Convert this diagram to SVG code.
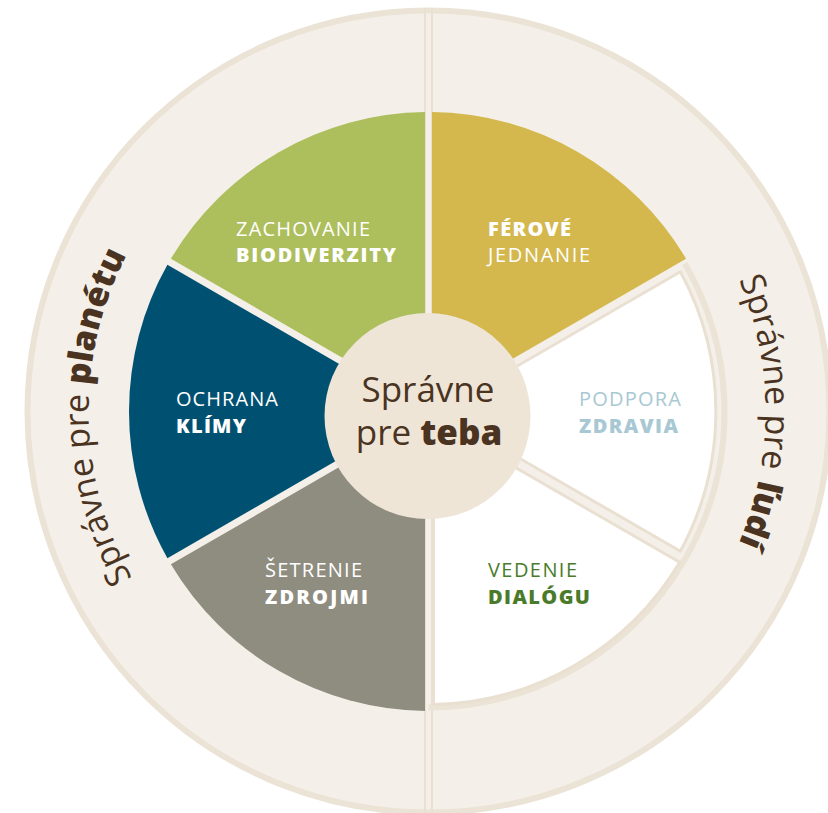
<svg xmlns="http://www.w3.org/2000/svg" width="828" height="813" viewBox="0 0 828 813">
<style>
.ringfill{fill:#f4f0e9;stroke:#ebe3d5;stroke-width:6}
.div{stroke:#e9e0d1;stroke-width:2;fill:none}
.band{fill:none;stroke:#ebe3d5;stroke-width:6}
.white{fill:#ffffff;stroke:#e9e0d1;stroke-width:3;stroke-linejoin:round}
.lbl{font-family:"Open Sans","Liberation Sans",sans-serif;font-size:20px}
.lt{font-weight:400}
.bd{font-weight:800}
.ring{font-family:"Open Sans","Liberation Sans",sans-serif;font-size:34px;fill:#4a3321}
.ctr{font-family:"Open Sans","Liberation Sans",sans-serif;font-size:35px;fill:#4a3321;text-anchor:middle}
</style>
<defs>
<path id="arcL" d="M 263.7 708.9 A 340 340 0 0 1 253.4 120.1" fill="none"/>
<path id="arcR" d="M 597 119.6 A 337 337 0 0 1 597 703.4" fill="none"/>
</defs>
<rect width="828" height="813" fill="#ffffff"/>
<g id="outer-ring">
<circle cx="428.5" cy="411.5" r="401" class="ringfill"/>
<line x1="425" y1="8" x2="425" y2="813" class="div"/>
<line x1="432" y1="8" x2="432" y2="813" class="div"/>
<path d="M 684.8 263.5 A 296 296 0 0 1 428.5 707.5" class="band"/>
</g>
<g id="label-planetu">
<text class="ring"><textPath href="#arcL" startOffset="50%" text-anchor="middle">Správne pre <tspan font-weight="800">planétu</tspan></textPath></text>
</g>
<g id="label-ludi">
<text class="ring"><textPath href="#arcR" startOffset="50%" text-anchor="middle">Správne pre <tspan font-weight="800" dx="3">ľudí</tspan></textPath></text>
</g>
<g id="seg-biodiverzita">
<path d="M 425 405.44 L 170.9 258.73 A 299.5 299.5 0 0 1 425 112.02 Z" fill="#adbe5c"/>
<text class="lbl lt" x="236" y="236" fill="#ffffff" textLength="134" lengthAdjust="spacing">ZACHOVANIE</text>
<text class="lbl bd" x="236" y="262" fill="#ffffff" textLength="160" lengthAdjust="spacing">BIODIVERZITY</text>
</g>
<g id="seg-ferove">
<path d="M 432 405.44 L 432 112.02 A 299.5 299.5 0 0 1 686.1 258.73 Z" fill="#d4b84e"/>
<text class="lbl bd" x="488" y="236" fill="#ffffff" textLength="83" lengthAdjust="spacing">FÉROVÉ</text>
<text class="lbl lt" x="488" y="262" fill="#ffffff" textLength="102" lengthAdjust="spacing">JEDNANIE</text>
</g>
<g id="seg-zdravie">
<path d="M 438.5 411.5 L 680.4 271.8 A 293 293 0 0 1 680.4 551.2 Z" class="white"/>
<text class="lbl lt" x="579" y="406" fill="#a8c8d3" textLength="102" lengthAdjust="spacing">PODPORA</text>
<text class="lbl bd" x="579" y="433" fill="#a8c8d3" textLength="99" lengthAdjust="spacing">ZDRAVIA</text>
</g>
<g id="seg-dialog">
<path d="M 433.5 420.16 L 679.7 562.3 A 293 293 0 0 1 433.5 704.46 Z" class="white"/>
<text class="lbl lt" x="488" y="577" fill="#4a7b2b" textLength="89" lengthAdjust="spacing">VEDENIE</text>
<text class="lbl bd" x="488" y="604" fill="#4a7b2b" textLength="102" lengthAdjust="spacing">DIALÓGU</text>
</g>
<g id="seg-zdroje">
<path d="M 425 417.56 L 425 710.98 A 299.5 299.5 0 0 1 170.9 564.27 Z" fill="#8f8d7f"/>
<text class="lbl lt" x="265" y="577" fill="#ffffff" textLength="97" lengthAdjust="spacing">ŠETRENIE</text>
<text class="lbl bd" x="265" y="604" fill="#ffffff" textLength="103" lengthAdjust="spacing">ZDROJMI</text>
</g>
<g id="seg-klima">
<path d="M 421.5 411.5 L 167.4 558.21 A 299.5 299.5 0 0 1 167.4 264.79 Z" fill="#005171"/>
<text class="lbl lt" x="176" y="406" fill="#ffffff" textLength="102" lengthAdjust="spacing">OCHRANA</text>
<text class="lbl bd" x="176" y="433" fill="#ffffff" textLength="70" lengthAdjust="spacing">KLÍMY</text>
</g>
<g id="center">
<circle cx="427.5" cy="416" r="103" fill="#eee5d7"/>
<text class="ctr" x="428" y="402">Správne</text>
<text class="ctr" x="429" y="445">pre <tspan font-weight="800">teba</tspan></text>
</g>
</svg>
